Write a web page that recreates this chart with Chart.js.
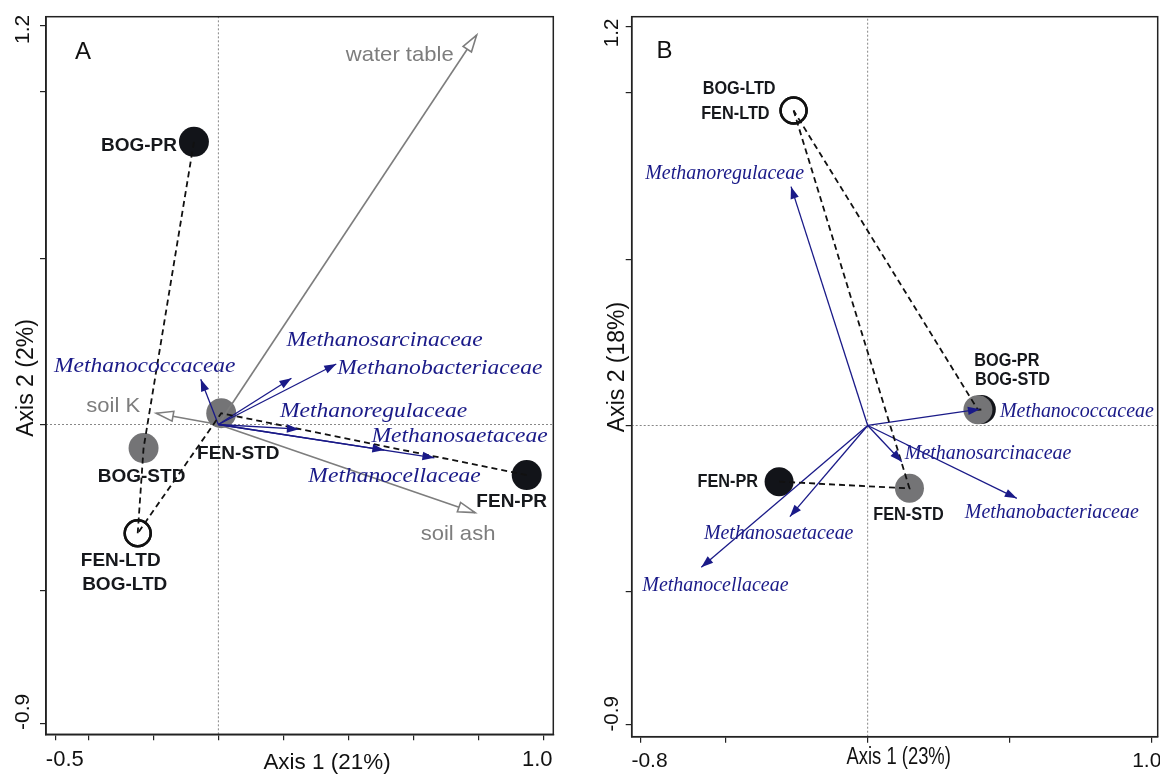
<!DOCTYPE html>
<html>
<head>
<meta charset="utf-8">
<script src="https://cdn.jsdelivr.net/npm/chart.js@4.4.1/dist/chart.umd.min.js"></script>
<style>
  html, body { margin: 0; padding: 0; background: #fff; }
  #wrap { position: relative; width: 1160px; height: 774px; overflow: hidden; }
  .panel { position: absolute; top: 0; width: 580px; height: 774px; }
</style>
</head>
<body>
<div id="wrap">
  <div class="panel" style="left:0"><canvas id="chartA" width="580" height="774"></canvas></div>
  <div class="panel" style="left:580px"><canvas id="chartB" width="580" height="774"></canvas></div>
</div>
<script>
// ---- values
const samples = ["BOG-PR", "BOG-STD", "BOG-LTD", "FEN-PR", "FEN-STD", "FEN-LTD"];
const taxa = ["Methanococcaceae", "Methanosarcinaceae", "Methanobacteriaceae",
              "Methanoregulaceae", "Methanocellaceae", "Methanosaetaceae"];

// panel A
const sampleXA = [-0.075, -0.230, -0.248, 0.949, 0.009, -0.248];
const sampleYA = [0.850, -0.071, -0.327, -0.152, 0.034, -0.327];
const taxaXA = [-0.054, 0.225, 0.363, 0.248, 0.511, 0.665];
const taxaYA = [0.136, 0.139, 0.182, -0.014, -0.077, -0.100];
const envA = ["water table", "soil K", "soil ash"];
const envXA = [0.795, -0.191, 0.790];
const envYA = [1.171, 0.034, -0.265];
const xTicksA = [-0.5, -0.4, -0.2, 0, 0.2, 0.4, 0.6, 0.8, 1.0];
const yTicksA = [-0.9, -0.5, 0, 0.5, 1.0, 1.2];
const xTickTextA = [-0.5, 1.0];
const yTickTextA = [-0.9, 1.2];

// panel B
const sampleXB = [0.400, 0.388, -0.261, -0.312, 0.147, -0.261];
const sampleYB = [0.048, 0.047, 0.947, -0.169, -0.189, 0.947];
const taxaXB = [0.395, 0.120, 0.525, -0.270, -0.586, -0.274];
const taxaYB = [0.049, -0.109, -0.219, 0.718, -0.426, -0.274];
const xTicksB = [-0.8, -0.5, 0, 0.5, 1.0];
const yTicksB = [-0.9, -0.5, 0, 0.5, 1.0, 1.2];
const xTickTextB = [-0.8, 1.0];
const yTickTextB = [-0.9, 1.2];

// samples joined by dashed lines (PR -> STD -> LTD)
const paths = [[0, 1, 2], [3, 4, 5]];

// ---- styles
const SANS = '"Liberation Sans", Arial, sans-serif';
const SERIF = '"Liberation Serif", "Times New Roman", serif';
const NAVY = "#1a1a88";
const ENV = "#7d7d7d";
const INK = "#16181c";
const kind = ["black", "gray", "open", "black", "gray", "open"];
const dotFill = { black: "#121419", gray: "#747476", open: "rgba(0,0,0,0)" };

const styleA = {
  tag: "A", letter: "A",
  xMin: -0.5302, xMax: 1.0308, yMin: -0.9314, yMax: 1.2261,
  pad: { left: 0, top: 16.7, right: 26.7, bottom: 0 }, yW: 46, xH: 39.7,
  sampleFont: "bold 19px " + SANS, sampleStretch: 1,
  taxaFont: "italic 21px " + SERIF, taxaStretch: 1.12,
  envFont: "21px " + SANS, envStretch: 1.05,
  tickFontX: "22px " + SANS, tickFontY: "21px " + SANS,
  titleFont: "22px " + SANS, titleStretch: 1.02, yTitleFont: "23px " + SANS,
  dotR: 15, ringR: 13,
  sampleLab: [
    { dx: -17, dy: 4, al: "right" }, { dx: -2, dy: 29, al: "center" }, { dx: -13, dy: 51, al: "center" },
    { dx: -15, dy: 27, al: "center" }, { dx: 17, dy: 41, al: "center" }, { dx: -17, dy: 27, al: "center" }
  ],
  taxaLab: [
    { dx: -56, dy: -13, al: "center" }, { dx: -5, dy: -38, al: "left" }, { dx: 1, dy: 5, al: "left" },
    { dx: -19, dy: -18, al: "left" }, { dx: -76, dy: 26, al: "left" }, { dx: -63, dy: -21, al: "left" }
  ],
  envLab: [{ dx: -23, dy: 20, al: "right" }, { dx: -16, dy: -7, al: "right" }, { dx: -17, dy: 22, al: "center" }],
  xTickShift: [9, -6], xTickY: 760,
  yTickShift: [-12, 4], yTickX: -23,
  xTitle: "Axis 1 (21%)", xTitleDx: 281, xTitleY: 763,
  yTitle: "Axis 2 (2%)", yTitleDx: -19, yTitleY: 378,
  letterDx: 37, letterY: 52.5
};

const styleB = {
  tag: "B", letter: "B",
  xMin: -0.831, xMax: 1.021, yMin: -0.9357, yMax: 1.229,
  pad: { left: 0, top: 16.7, right: 2.3, bottom: 0 }, yW: 51.7, xH: 37.3,
  sampleFont: "bold 18.5px " + SANS, sampleStretch: 0.88,
  taxaFont: "italic 21px " + SERIF, taxaStretch: 0.95,
  envFont: "21px " + SANS, envStretch: 1,
  tickFontX: "21px " + SANS, tickFontY: "20.5px " + SANS,
  titleFont: "23px " + SANS, titleStretch: 0.8, yTitleFont: "23px " + SANS,
  dotR: 14.5, ringR: 13,
  sampleLab: [
    { dx: -7, dy: -49, al: "left" }, { dx: -3, dy: -30, al: "left" }, { dx: -18, dy: -22, al: "right" },
    { dx: -21, dy: 0, al: "right" }, { dx: -1, dy: 27, al: "center" }, { dx: -24, dy: 3, al: "right" }
  ],
  taxaLab: [
    { dx: 20, dy: 2, al: "left" }, { dx: 3, dy: -8, al: "left" }, { dx: -52, dy: 14, al: "left" },
    { dx: 13, dy: -13, al: "right" }, { dx: -59, dy: 18, al: "left" }, { dx: -86, dy: 17, al: "left" }
  ],
  envLab: [],
  xTickShift: [9, -5], xTickY: 761.5,
  yTickShift: [-11, 6.6], yTickX: -19.2,
  xTitle: "Axis 1 (23%)", xTitleDx: 267, xTitleY: 758,
  yTitle: "Axis 2 (18%)", yTitleDx: -14, yTitleY: 367,
  letterDx: 32.7, letterY: 51.7
};

function text(c, str, x, y, font, color, align, stretch, rot) {
  c.save();
  c.translate(x, y);
  if (rot) c.rotate(rot);
  c.scale(stretch || 1, 1);
  c.font = font;
  c.fillStyle = color;
  c.textAlign = align;
  c.textBaseline = "middle";
  c.fillText(str, 0, 0);
  c.restore();
}

function decor(s, d) {
  return {
    id: "decor" + s.tag,
    afterDatasetsDraw(chart) {
      const c = chart.ctx;
      chart.data.datasets.forEach((ds, i) => {
        if (!ds.head) return;
        const pts = chart.getDatasetMeta(i).data;
        const a = pts[0], b = pts[pts.length - 1];
        const ang = Math.atan2(b.y - a.y, b.x - a.x);
        const open = ds.head === "open";
        const L = open ? 17 : 12, W = open ? 10 : 8.5;
        const bx = b.x - L * Math.cos(ang), by = b.y - L * Math.sin(ang);
        const nx = -Math.sin(ang) * W / 2, ny = Math.cos(ang) * W / 2;
        c.save();
        c.beginPath();
        c.moveTo(b.x, b.y);
        c.lineTo(bx + nx, by + ny);
        c.lineTo(bx - nx, by - ny);
        c.closePath();
        if (open) {
          c.fillStyle = "#fff"; c.fill();
          c.lineWidth = 1.6; c.strokeStyle = ds.borderColor; c.stroke();
        } else {
          c.fillStyle = ds.borderColor; c.fill();
        }
        c.restore();
      });
    },
    afterDraw(chart) {
      const c = chart.ctx, ca = chart.chartArea;
      const x = chart.scales.x, y = chart.scales.y;
      c.save();
      c.lineWidth = 1.5;
      c.strokeStyle = "#222";
      c.strokeRect(ca.left, ca.top, ca.right - ca.left, ca.bottom - ca.top);
      c.restore();

      // sample names
      d.sampleX.forEach((v, i) => {
        const o = s.sampleLab[i];
        text(c, samples[i], x.getPixelForValue(v) + o.dx, y.getPixelForValue(d.sampleY[i]) + o.dy,
             s.sampleFont, INK, o.al, s.sampleStretch);
      });
      // taxa names
      d.taxaX.forEach((v, i) => {
        const o = s.taxaLab[i];
        text(c, taxa[i], x.getPixelForValue(v) + o.dx, y.getPixelForValue(d.taxaY[i]) + o.dy,
             s.taxaFont, NAVY, o.al, s.taxaStretch);
      });
      // environmental variables
      d.envX.forEach((v, i) => {
        const o = s.envLab[i];
        text(c, d.env[i], x.getPixelForValue(v) + o.dx, y.getPixelForValue(d.envY[i]) + o.dy,
             s.envFont, ENV, o.al, s.envStretch);
      });

      // tick labels (only the end values carry text)
      d.xTickText.forEach((v, i) => {
        text(c, v.toFixed(1), x.getPixelForValue(v) + s.xTickShift[i], s.xTickY, s.tickFontX, "#111", "center", 1);
      });
      d.yTickText.forEach((v, i) => {
        text(c, v.toFixed(1), ca.left + s.yTickX, y.getPixelForValue(v) + s.yTickShift[i],
             s.tickFontY, "#111", "center", 1, -Math.PI / 2);
      });

      // axis titles and panel letter
      text(c, s.xTitle, ca.left + s.xTitleDx, s.xTitleY, s.titleFont, "#111", "center", s.titleStretch);
      text(c, s.yTitle, ca.left + s.yTitleDx, s.yTitleY, s.yTitleFont, "#111", "center", 1, -Math.PI / 2);
      text(c, s.letter, ca.left + s.letterDx, s.letterY, "24px " + SANS, "#111", "center", 1);
    }
  };
}

function buildPanel(id, s, d) {
  const ds = [];
  const zero = { showLine: true, borderColor: "#6a6a6a", borderWidth: 0.8, borderDash: [2, 2],
                 pointRadius: 0, order: 20 };
  ds.push(Object.assign({ data: [{ x: 0, y: s.yMin }, { x: 0, y: s.yMax }] }, zero));
  ds.push(Object.assign({ data: [{ x: s.xMin, y: 0 }, { x: s.xMax, y: 0 }] }, zero));

  d.env.forEach((name, i) => {
    ds.push({ label: name, data: [{ x: 0, y: 0 }, { x: d.envX[i], y: d.envY[i] }],
              showLine: true, borderColor: ENV, borderWidth: 1.6, pointRadius: 0, head: "open", order: 3 });
  });
  taxa.forEach((name, i) => {
    ds.push({ label: name, data: [{ x: 0, y: 0 }, { x: d.taxaX[i], y: d.taxaY[i] }],
              showLine: true, borderColor: NAVY, borderWidth: 1.3, pointRadius: 0, head: "filled", order: 2 });
  });
  paths.forEach(p => {
    ds.push({ data: p.map(i => ({ x: d.sampleX[i], y: d.sampleY[i] })),
              showLine: true, borderColor: "#111", borderWidth: 1.8, borderDash: [6, 4],
              pointRadius: 0, order: 1 });
  });
  ds.push({
    label: "samples",
    data: samples.map((n, i) => ({ x: d.sampleX[i], y: d.sampleY[i] })),
    pointRadius: kind.map(k => k === "open" ? s.ringR : s.dotR),
    pointBackgroundColor: kind.map(k => dotFill[k]),
    pointBorderColor: kind.map(k => k === "open" ? "#111" : dotFill[k]),
    pointBorderWidth: kind.map(k => k === "open" ? 2.5 : 0),
    order: 10
  });

  const axis = (min, max, vals, pos, fit) => ({
    type: "linear", position: pos, min: min, max: max,
    afterBuildTicks: sc => { sc.ticks = vals.map(v => ({ value: v })); },
    afterFit: fit,
    ticks: { display: false },
    grid: { display: true, drawOnChartArea: false, drawTicks: true, tickLength: 6, color: "#222", lineWidth: 1.2 },
    border: { display: true, color: "#222", width: 1.5 }
  });

  new Chart(document.getElementById(id), {
    type: "scatter",
    data: { datasets: ds },
    options: {
      responsive: false,
      devicePixelRatio: 1,
      animation: false,
      events: [],
      layout: { padding: s.pad, autoPadding: false },
      plugins: { legend: { display: false }, tooltip: { enabled: false } },
      scales: {
        x: axis(s.xMin, s.xMax, d.xTicks, "bottom", sc => { sc.height = s.xH; }),
        y: axis(s.yMin, s.yMax, d.yTicks, "left", sc => { sc.width = s.yW; })
      }
    },
    plugins: [decor(s, d)]
  });
}

buildPanel("chartA", styleA, {
  sampleX: sampleXA, sampleY: sampleYA, taxaX: taxaXA, taxaY: taxaYA,
  env: envA, envX: envXA, envY: envYA,
  xTicks: xTicksA, yTicks: yTicksA, xTickText: xTickTextA, yTickText: yTickTextA
});
buildPanel("chartB", styleB, {
  sampleX: sampleXB, sampleY: sampleYB, taxaX: taxaXB, taxaY: taxaYB,
  env: [], envX: [], envY: [],
  xTicks: xTicksB, yTicks: yTicksB, xTickText: xTickTextB, yTickText: yTickTextB
});
</script>
</body>
</html>
